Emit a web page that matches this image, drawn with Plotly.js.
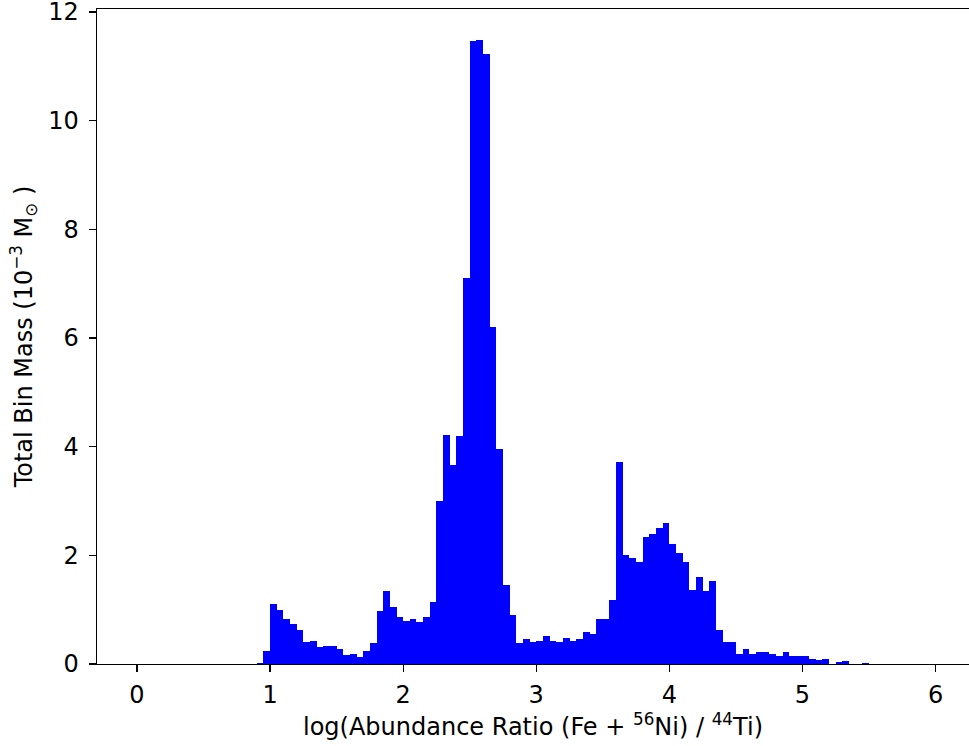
<!DOCTYPE html>
<html>
<head>
<meta charset="utf-8">
<script src="https://cdn.plot.ly/plotly-3.0.1.min.js"></script>
<style>html,body{margin:0;padding:0;background:#fff;}#chart{width:969px;height:746px;}</style>
</head>
<body>
<div id="chart"></div>
<script>
// Histogram: bins of width 0.05 from 0.00 to 6.00 (log ratio)
const binStart = 0.0;
const binWidth = 0.05;
// Total bin mass (10^-3 Msun) per bin
const binMass = [
  0, 0, 0, 0, 0, 0.005, 0, 0, 0, 0,
  0, 0, 0, 0.005, 0, 0.006, 0.006, 0.008, 0.01, 0.24,
  1.10, 0.99, 0.82, 0.73, 0.62, 0.40, 0.43, 0.32, 0.34, 0.34,
  0.28, 0.17, 0.18, 0.12, 0.24, 0.38, 0.97, 1.34, 1.04, 0.86,
  0.80, 0.82, 0.77, 0.86, 1.15, 3.00, 4.22, 3.66, 4.19, 7.10,
  11.46, 11.48, 11.22, 6.21, 3.95, 1.45, 0.91, 0.38, 0.46, 0.40,
  0.42, 0.52, 0.42, 0.40, 0.48, 0.42, 0.46, 0.59, 0.55, 0.83,
  0.83, 1.17, 3.72, 2.00, 1.96, 1.87, 2.33, 2.39, 2.50, 2.59,
  2.20, 2.04, 1.87, 1.37, 1.61, 1.35, 1.52, 0.63, 0.40, 0.40,
  0.18, 0.28, 0.18, 0.22, 0.22, 0.18, 0.15, 0.23, 0.14, 0.14,
  0.14, 0.09, 0.07, 0.10, 0.006, 0.03, 0.05, 0.006, 0.005, 0.025,
  0.005, 0.003, 0.002, 0.003, 0.002, 0.003, 0.003, 0.003, 0.002, 0
];
const xTicks = [0, 1, 2, 3, 4, 5, 6];
const xTickLabels = ['0', '1', '2', '3', '4', '5', '6'];
const yTicks = [0, 2, 4, 6, 8, 10, 12];
const yTickLabels = ['0', '2', '4', '6', '8', '10', '12'];

const binCenters = binMass.map((_, i) => binStart + binWidth * (i + 0.5));

const trace = {
  type: 'bar',
  x: binCenters,
  y: binMass,
  width: binWidth,
  marker: {color: '#0000ff', line: {width: 0}},
  hoverinfo: 'x+y'
};

const font = {family: 'DejaVu Sans, sans-serif', color: '#000'};

const layout = {
  width: 969,
  height: 746,
  margin: {l: 97, r: 0, t: 9, b: 82, pad: 0},
  paper_bgcolor: '#fff',
  plot_bgcolor: '#fff',
  showlegend: false,
  bargap: 0,
  font: Object.assign({size: 24}, font),
  xaxis: {
    range: [-0.3, 6.251],
    tickmode: 'array',
    tickvals: xTicks,
    ticktext: xTickLabels,
    ticks: 'outside',
    ticklen: 7,
    tickwidth: 1.3,
    tickcolor: '#000',
    tickfont: Object.assign({size: 24}, font),
    ticklabelstandoff: 2,
    ticklabeloverflow: 'allow',
    showline: true,
    linecolor: '#000',
    linewidth: 1.3,
    mirror: true,
    showgrid: false,
    zeroline: false,
    title: {
      text: 'log(Abundance Ratio (Fe + <sup>56</sup>Ni) / <sup>44</sup>Ti)',
      font: Object.assign({size: 24}, font),
      standoff: 7
    }
  },
  yaxis: {
    range: [0, 12.055],
    tickmode: 'array',
    tickvals: yTicks,
    ticktext: yTickLabels,
    ticks: 'outside',
    ticklen: 7,
    tickwidth: 1.3,
    tickcolor: '#000',
    tickfont: Object.assign({size: 24}, font),
    ticklabelstandoff: 5,
    ticklabeloverflow: 'allow',
    showline: true,
    linecolor: '#000',
    linewidth: 1.3,
    mirror: false,
    showgrid: false,
    zeroline: false,
    title: {
      text: 'Total Bin Mass (10<sup>−3</sup> M<sub>⊙</sub> )',
      font: Object.assign({size: 24}, font),
      standoff: 9
    }
  }
};

Plotly.newPlot('chart', [trace], layout, {displayModeBar: false, staticPlot: true});
</script>
</body>
</html>
